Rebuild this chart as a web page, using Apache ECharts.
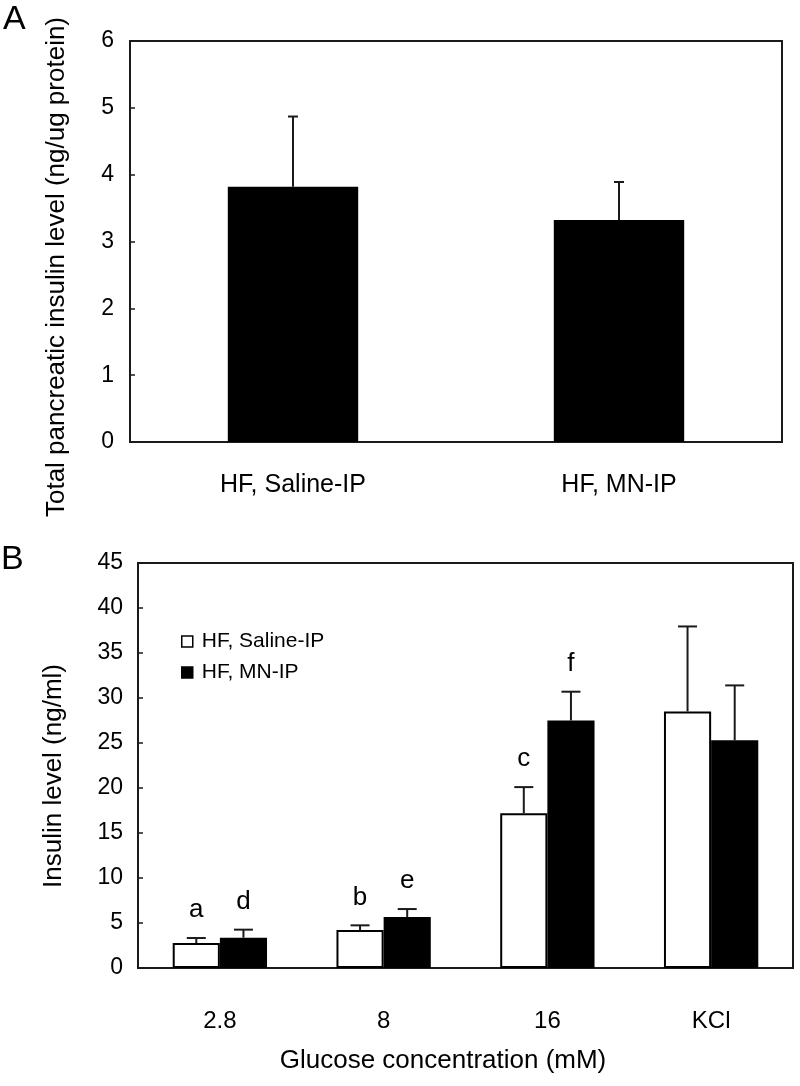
<!DOCTYPE html>
<html>
<head>
<meta charset="utf-8">
<script src="https://cdn.jsdelivr.net/npm/echarts@6/dist/echarts.min.js"></script>
<style>
html,body{margin:0;padding:0;background:#fff;}
#chart{width:800px;height:1086px;}
</style>
</head>
<body>
<div id="chart"></div>
<script>
// ---- Data ----
const catsA = ['HF, Saline-IP', 'HF, MN-IP'];
const meanA = [3.82, 3.32];
const errA = [1.05, 0.57];

const catsB = ['2.8', '8', '16', 'KCl'];
const salineB = [2.78, 4.22, 17.2, 28.5];
const salineErrB = [0.55, 0.52, 2.9, 9.45];
const mnB = [3.37, 5.67, 27.5, 25.3];
const mnErrB = [0.89, 0.88, 3.2, 6.1];
const lettersSaline = ['a', 'b', 'c', ''];
const lettersMN = ['d', 'e', 'f', ''];

const yTicksA = { min: 0, max: 6, interval: 1 };
const yTicksB = { min: 0, max: 45, interval: 5 };

// ---- Styles ----
const FONT = '"Liberation Sans", Arial, Helvetica, sans-serif';
const AX = '#1a1a1a';
const BAR_W_A = 0.40;
const BAR_W_B = 0.288;

const chart = echarts.init(document.getElementById('chart'), null, { renderer: 'canvas' });

function errSeries(name, xIdx, yIdx, means, errs, offsetFrac, capW, letters) {
  return {
    type: 'custom',
    name: name,
    xAxisIndex: xIdx,
    yAxisIndex: yIdx,
    z: 5,
    silent: true,
    clip: false,
    data: means.map((m, i) => [i, m, errs[i]]),
    encode: { x: 0, y: 1 },
    renderItem: function (params, api) {
      const i = api.value(0), m = api.value(1), e = api.value(2);
      const top = api.coord([i, m + e]);
      const base = api.coord([i, m]);
      const band = api.size([1, 0])[0];
      const cx = top[0] + offsetFrac * band;
      const children = [
        { type: 'line', shape: { x1: cx, y1: base[1], x2: cx, y2: top[1] },
          style: { stroke: AX, lineWidth: 2 } },
        { type: 'line', shape: { x1: cx - capW / 2, y1: top[1], x2: cx + capW / 2, y2: top[1] },
          style: { stroke: AX, lineWidth: 2 } }
      ];
      const letter = letters ? letters[params.dataIndex] : '';
      if (letter) {
        children.push({
          type: 'text', x: cx, y: top[1] - 15,
          style: { text: letter, font: '26px ' + FONT, fill: '#000',
                   textAlign: 'center', textVerticalAlign: 'bottom' }
        });
      }
      return { type: 'group', children: children };
    }
  };
}

const option = {
  backgroundColor: '#fff',
  animation: false,
  textStyle: { fontFamily: FONT },
  grid: [
    { left: 130, top: 41, width: 652, height: 401, show: true, borderColor: AX, borderWidth: 2, backgroundColor: 'transparent' },
    { left: 138, top: 563, width: 655, height: 405, show: true, borderColor: AX, borderWidth: 2, backgroundColor: 'transparent' }
  ],
  xAxis: [
    { type: 'category', gridIndex: 0, data: catsA,
      axisLine: { lineStyle: { color: AX, width: 2 } },
      axisTick: { inside: true, length: 5, lineStyle: { color: AX, width: 1.5 } },
      axisLabel: { color: '#000', fontSize: 25, fontFamily: FONT, margin: 31 } },
    { type: 'category', gridIndex: 1, data: catsB,
      axisLine: { lineStyle: { color: AX, width: 2 } },
      axisTick: { inside: true, length: 5, lineStyle: { color: AX, width: 1.5 } },
      axisLabel: { color: '#000', fontSize: 24, fontFamily: FONT, margin: 41 } }
  ],
  yAxis: [
    { type: 'value', gridIndex: 0, min: yTicksA.min, max: yTicksA.max, interval: yTicksA.interval,
      splitLine: { show: false },
      axisLine: { show: true, lineStyle: { color: AX, width: 2 } },
      axisTick: { show: true, inside: true, length: 5, lineStyle: { color: AX, width: 1.5 } },
      axisLabel: { color: '#000', fontSize: 23, fontFamily: FONT, margin: 16 } },
    { type: 'value', gridIndex: 1, min: yTicksB.min, max: yTicksB.max, interval: yTicksB.interval,
      splitLine: { show: false },
      axisLine: { show: true, lineStyle: { color: AX, width: 2 } },
      axisTick: { show: true, inside: true, length: 5, lineStyle: { color: AX, width: 1.5 } },
      axisLabel: { color: '#000', fontSize: 23, fontFamily: FONT, margin: 15 } }
  ],
  legend: {
    orient: 'vertical', left: 176, top: 626, itemWidth: 11, itemHeight: 11, itemGap: 10,
    textStyle: { fontSize: 21, fontFamily: FONT, color: '#000', lineHeight: 21, padding: [0, 0, 0, 4] },
    data: [
      { name: 'HF, Saline-IP', icon: 'rect', itemStyle: { color: '#fff', borderColor: '#000', borderWidth: 1.5 } },
      { name: 'HF, MN-IP', icon: 'rect', itemStyle: { color: '#000', borderColor: '#000', borderWidth: 1.5 } }
    ]
  },
  series: [
    { type: 'bar', name: 'A', xAxisIndex: 0, yAxisIndex: 0, data: meanA,
      barWidth: (BAR_W_A * 100) + '%', itemStyle: { color: '#000' } },
    errSeries('errA', 0, 0, meanA, errA, 0, 10, null),

    { type: 'bar', name: 'HF, Saline-IP', xAxisIndex: 1, yAxisIndex: 1, data: salineB,
      barWidth: (BAR_W_B * 100) + '%', barGap: '0%',
      itemStyle: { color: '#fff', borderColor: '#000', borderWidth: 2 } },
    { type: 'bar', name: 'HF, MN-IP', xAxisIndex: 1, yAxisIndex: 1, data: mnB,
      barWidth: (BAR_W_B * 100) + '%', barGap: '0%',
      itemStyle: { color: '#000', borderColor: '#000', borderWidth: 2 } },
    errSeries('errSaline', 1, 1, salineB, salineErrB, -BAR_W_B / 2, 19, lettersSaline),
    errSeries('errMN', 1, 1, mnB, mnErrB, BAR_W_B / 2, 19, lettersMN)
  ],
  graphic: [
    { type: 'text', x: 3, y: 20, style: { text: 'A', font: '34px ' + FONT, fill: '#000', textAlign: 'left', textVerticalAlign: 'middle' } },
    { type: 'text', x: 1, y: 560, style: { text: 'B', font: '34px ' + FONT, fill: '#000', textAlign: 'left', textVerticalAlign: 'middle' } },
    { type: 'text', x: 57, y: 267, rotation: Math.PI / 2,
      style: { text: 'Total pancreatic insulin level (ng/ug protein)', font: '26px ' + FONT, fill: '#000', textAlign: 'center', textVerticalAlign: 'middle' } },
    { type: 'text', x: 54, y: 776, rotation: Math.PI / 2,
      style: { text: 'Insulin level (ng/ml)', font: '26px ' + FONT, fill: '#000', textAlign: 'center', textVerticalAlign: 'middle' } },
    { type: 'text', x: 443, y: 1061,
      style: { text: 'Glucose concentration (mM)', font: '26px ' + FONT, fill: '#000', textAlign: 'center', textVerticalAlign: 'middle' } }
  ]
};

chart.setOption(option);
</script>
</body>
</html>
